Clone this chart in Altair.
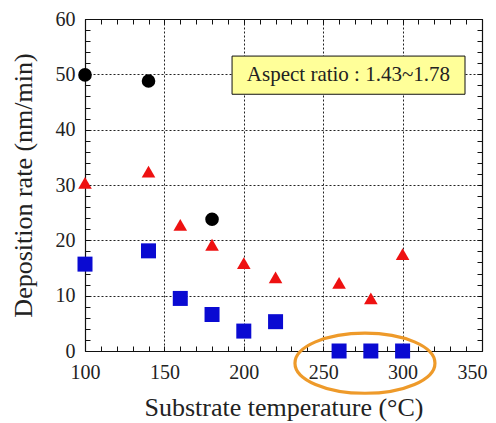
import altair as alt
import pandas as pd

# ---- data ----
temp_circle = [100, 140, 180]
rate_circle = [49.9, 48.8, 23.8]

temp_tri = [100, 140, 160, 180, 200, 220, 260, 280, 300]
rate_tri = [30.4, 32.4, 22.8, 19.2, 15.9, 13.3, 12.3, 9.5, 17.5]

temp_sq = [100, 140, 160, 180, 200, 220, 260, 280, 300]
rate_sq = [15.7, 18.1, 9.5, 6.6, 3.6, 5.3, 0.0, 0.0, 0.0]

x_major = [100, 150, 200, 250, 300, 350]
y_major = [0, 10, 20, 30, 40, 50, 60]
x_minor = list(range(100, 351, 10))
y_minor = list(range(0, 61, 2))

note_text = ["Aspect ratio : 1.43~1.78"]
note_box = {"x1": [192.6], "x2": [339.3], "y1": [46.4], "y2": [53.3], "xc": [265.9], "yc": [49.9]}
ellipse_center = {"t": [276.3], "r": [-2.2]}

# ---- styling ----
SERIF = "Liberation Serif"
W, H = 397, 332
xs = alt.Scale(domain=[100, 350], nice=False, zero=False)
ys = alt.Scale(domain=[0, 60], nice=False, zero=False)

df_c = pd.DataFrame({"t": temp_circle, "r": rate_circle})
df_t = pd.DataFrame({"t": temp_tri, "r": rate_tri})
df_s = pd.DataFrame({"t": temp_sq, "r": rate_sq})

main_x = alt.Axis(orient="bottom", values=x_major, ticks=False, grid=True,
                  gridDash=[2, 2], gridColor="#222", gridWidth=1,
                  domain=True, domainColor="#111", domainWidth=1.2,
                  labelFont=SERIF, labelFontSize=20, labelColor="#222",
                  labelFlush=False, labelPadding=11,
                  labelOffset=alt.ExprRef(expr="datum.value == 350 ? -10 : 0"),
                  titleFont=SERIF, titleFontSize=26, titleFontWeight="normal",
                  titleColor="#222", titlePadding=12)
main_y = alt.Axis(orient="left", values=y_major, ticks=False, grid=True,
                  gridDash=[2, 2], gridColor="#222", gridWidth=1,
                  domain=True, domainColor="#111", domainWidth=1.2,
                  labelFont=SERIF, labelFontSize=20, labelColor="#222",
                  labelPadding=10,
                  titleFont=SERIF, titleFontSize=26, titleFontWeight="normal",
                  titleColor="#222", titlePadding=19)

tick_common = dict(labels=False, grid=False, tickSize=5, tickColor="#111", tickWidth=1)

circles = alt.Chart(df_c).mark_point(shape="circle", filled=True, size=185,
                                     color="black", opacity=1).encode(
    x=alt.X("t:Q", scale=xs, axis=main_x, title="Substrate temperature (°C)"),
    y=alt.Y("r:Q", scale=ys, axis=main_y, title="Deposition rate (nm/min)"),
)

triangles = alt.Chart(df_t).mark_point(shape="triangle-up", filled=True, size=185,
                                       color="#ee1111", opacity=1).encode(
    x=alt.X("t:Q", scale=xs, title=None,
            axis=alt.Axis(orient="top", offset=-H, values=x_minor, domain=False, **tick_common)),
    y=alt.Y("r:Q", scale=ys, title=None,
            axis=alt.Axis(orient="right", offset=-W, values=y_minor, domain=False, **tick_common)),
)

squares = alt.Chart(df_s).mark_point(shape="square", filled=True, size=225,
                                     color="#0a0ad2", opacity=1).encode(
    x=alt.X("t:Q", scale=xs, title=None,
            axis=alt.Axis(orient="bottom", offset=-H, values=x_minor, domain=True,
                          domainColor="#111", domainWidth=1.2, **tick_common)),
    y=alt.Y("r:Q", scale=ys, title=None,
            axis=alt.Axis(orient="left", offset=-W, values=y_minor, domain=True,
                          domainColor="#111", domainWidth=1.2, **tick_common)),
)

box_df = pd.DataFrame(note_box)
box = alt.Chart(box_df).mark_rect(fill="#ffff99", stroke="#111", strokeWidth=1).encode(
    x=alt.X("x1:Q", scale=xs, axis=None), x2="x2:Q",
    y=alt.Y("y1:Q", scale=ys, axis=None), y2="y2:Q",
)
label_df = pd.DataFrame({"xc": note_box["xc"], "yc": note_box["yc"], "txt": note_text})
label = alt.Chart(label_df).mark_text(font=SERIF, fontSize=21, color="#222",
                                      align="center", baseline="middle").encode(
    x=alt.X("xc:Q", scale=xs, axis=None),
    y=alt.Y("yc:Q", scale=ys, axis=None),
    text="txt:N",
)

ellipse_path = "M -1 0 A 1 0.43 0 1 0 1 0 A 1 0.43 0 1 0 -1 0 Z"
ell = alt.Chart(pd.DataFrame(ellipse_center)).mark_point(
    shape=ellipse_path, size=140 * 140, filled=False, stroke="#ee9a2a",
    strokeWidth=3.2, opacity=1).encode(
    x=alt.X("t:Q", scale=xs, axis=None),
    y=alt.Y("r:Q", scale=ys, axis=None),
)

chart = alt.layer(circles, triangles, squares, box, label, ell).resolve_axis(
    x="independent", y="independent"
).properties(
    width=W, height=H,
    autosize=alt.AutoSizeParams(type="none"),
    padding={"left": 77, "top": 11, "right": 6, "bottom": 72},
).configure_view(strokeWidth=0)

chart.save("out.html", embed_options={"renderer": "svg", "actions": False})
